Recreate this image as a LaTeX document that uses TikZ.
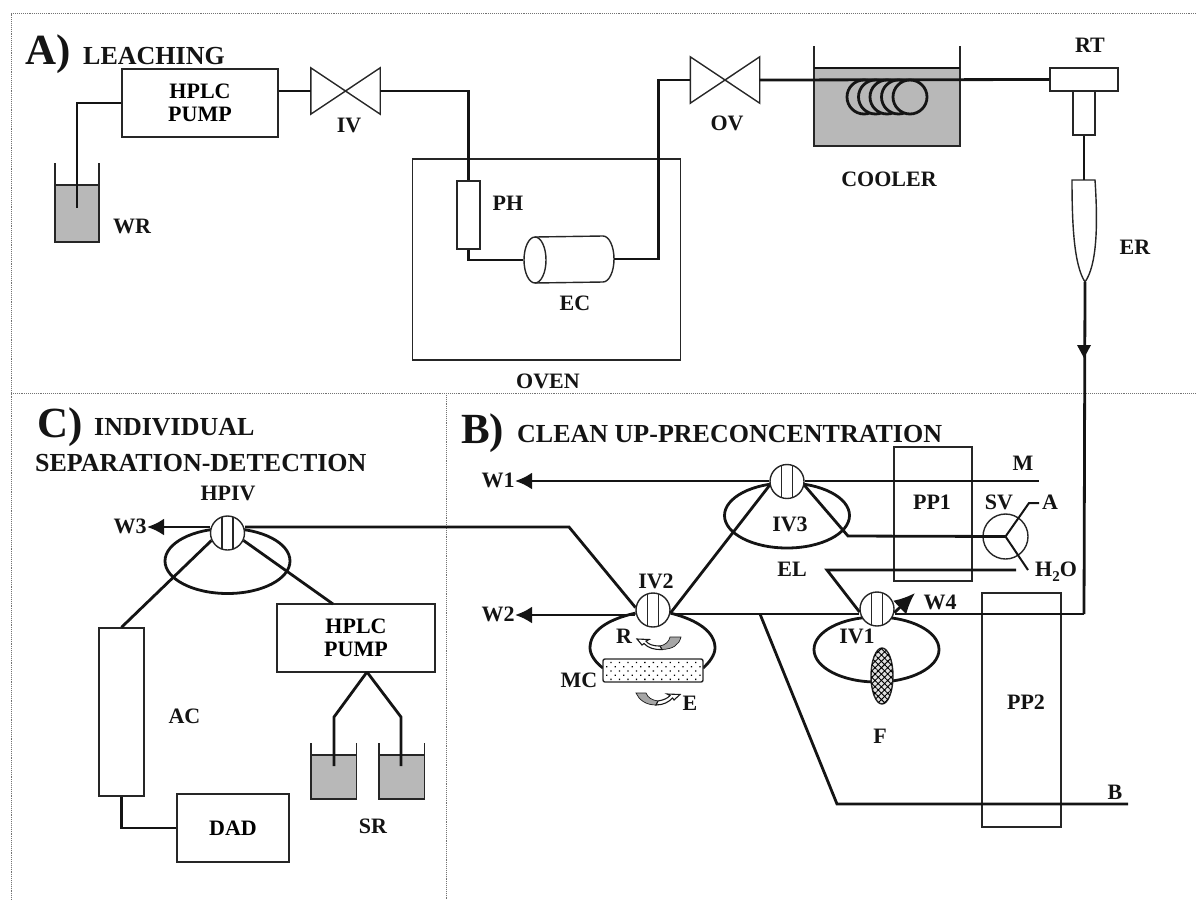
\documentclass[tikz,border=0pt]{standalone}
\usepackage{fontspec}
\setmainfont{Liberation Serif}
\usetikzlibrary{shapes.geometric,patterns.meta,arrows.meta}

\begin{document}
\begin{tikzpicture}[
x=1pt,y=-1pt,
frameline/.style={draw=black!55,densely dotted,line width=0.9pt},
pipe/.style={draw=black!92,line width=2.8pt,line join=miter},
thinbox/.style={draw=black!85,line width=1.4pt},
box/.style={thinbox,rectangle,fill=white,inner sep=0pt,align=center,font=\lab},
ghost/.style={thinbox,rectangle,inner sep=0pt},
lab/.style={font=\lab,anchor=base,inner sep=0pt,text=black!92},
head/.style={font=\headfont,anchor=base west,inner sep=0pt,text=black!92},
big/.style={font=\bigfont,anchor=base west,inner sep=0pt,text=black!92},
rotary/.style={
  circle,
  thinbox,
  fill=white,
  minimum size=34pt,
  inner sep=0pt,
  path picture={
    \draw[thinbox] ([xshift=-5.5pt]path picture bounding box.north) -- ([xshift=-5.5pt]path picture bounding box.south);
    \draw[thinbox] ([xshift=5.5pt]path picture bounding box.north) -- ([xshift=5.5pt]path picture bounding box.south);
    }
  },
ring/.style={
  ellipse,
  pipe,
  inner sep=0pt,
  minimum width=125pt,
  minimum height=65pt
  },
bow/.style={rectangle,inner sep=0pt,minimum width=69pt,minimum height=46pt},
liquid/.style={fill=black!28},
flow/.style={-{Latex[length=17pt,width=17pt]}},
swoosh/.style={draw=black!90,line width=1.1pt,fill=white},
swooshtail/.style={draw=black!90,line width=0.7pt,fill=black!35}
]
\newcommand{\lab}{\fontsize{22}{23}\selectfont\bfseries}
\newcommand{\headfont}{\fontsize{26}{28}\selectfont\bfseries}
\newcommand{\bigfont}{\fontsize{43}{45}\selectfont\bfseries}
\useasboundingbox (0,0) rectangle (1196,900);

% panel borders
\draw[frameline] (1196,13) -- (11,13) -- (11,900);
\draw[frameline] (11,393) -- (1196,393);
\draw[frameline] (446,393) -- (446,900);

% A) leaching
\node[big] (titleA) at (25,64) {A)};
\node[head] (nameA) at (83,64) {LEACHING};

\fill[liquid] (55,185) rectangle (99,242);
\draw[thinbox] (55,163) -- (55,242) -- (99,242) -- (99,163);
\draw[thinbox] (55,185) -- (99,185);
\coordinate (dipWR) at (77,208);
\node[lab] (labWR) at (132,233) {WR};

\node[box,minimum width=156pt,minimum height=68pt] (pumpA) at (200,103) {HPLC\\PUMP};
\node[bow] (iv) at (345.5,91) {};
\draw[thinbox] (iv.north west) -- (iv.south east) -- (iv.north east) -- (iv.south west) -- cycle;
\node[lab] (labIV) at (349,132) {IV};

\node[ghost,minimum width=268pt,minimum height=201pt] (oven) at (546.5,259.5) {};
\node[lab] (labOven) at (548,388) {OVEN};
\node[box,minimum width=23pt,minimum height=68pt] (ph) at (468.5,215) {};
\node[lab] (labPH) at (508,210) {PH};

% extraction cell
\draw[thinbox,fill=white] (535,237) -- (603,236) arc[start angle=90,end angle=-90,x radius=11pt,y radius=23pt] -- (535,283);
\node[ellipse,thinbox,fill=white,inner sep=0pt,minimum width=22pt,minimum height=46pt] (ec) at (535,260) {};
\coordinate (ecout) at (614,259);
\node[lab] (labEC) at (575,310) {EC};

\node[bow] (ov) at (725,80) {};
\draw[thinbox] (ov.north west) -- (ov.south east) -- (ov.north east) -- (ov.south west) -- cycle;
\node[lab] (labOV) at (727,130) {OV};

% cooler with the coil
\fill[liquid] (814,68) rectangle (960,146);
\draw[thinbox] (814,46) -- (814,146) -- (960,146) -- (960,46);
\draw[pipe] (814,68) -- (960,68);
\foreach \cx in {864,875.5,887,898.5,910}
  \draw[pipe,fill=black!28] (\cx,97) ellipse[x radius=17pt,y radius=17pt];
\node[lab] (labCooler) at (889,186) {COOLER};

\node[box,minimum width=68pt,minimum height=23pt] (rt) at (1084,79.5) {};
\node[box,minimum width=22pt,minimum height=44pt] (rtstem) at (1084,113) {};
\node[lab] (labRT) at (1090,52) {RT};

\coordinate (ertop) at (1084,180);
\coordinate (ertip) at (1085,282);
\draw[thinbox,fill=white] (1072,180) -- (1095,180) .. controls (1098,225) and (1097,265) .. (ertip) .. controls (1074,265) and (1072,225) .. cycle;
\node[lab] (labER) at (1135,254) {ER};

% pipes of A
\draw[pipe] (pumpA.west) -| (dipWR);
\draw[pipe] (pumpA.east |- iv.west) -- (iv.west);
\draw[pipe] (iv.east) -| (ph.north);
\draw[pipe] (ph.south) |- (ec.west);
\draw[pipe] (ecout) -| (658.5,80) -- (ov.west);
\draw[pipe] (ov.east) -- (rt.west);
\draw[pipe] (rtstem.south) -- (ertop);

% B) clean up
\node[big] (titleB) at (461,443) {B)};
\node[head] (nameB) at (517,442) {CLEAN UP-PRECONCENTRATION};

\node[ghost,minimum width=78pt,minimum height=134pt] (pp1) at (933,514) {};
\node[lab] (labPP1) at (932,509) {PP1};
\node[ghost,minimum width=79pt,minimum height=234pt] (pp2) at (1021.5,710) {};
\node[lab] (labPP2) at (1026,709) {PP2};

\node[ring] (ring3) at (787,515.5) {};
\node[ring] (ring1) at (876.5,649.5) {};
\node[rotary] (iv3) at (787,481.5) {};
\node[rotary] (iv2) at (653,610) {};
\node[rotary] (iv1) at (877,609) {};

\node[lab] (labW1) at (498,487) {W1};
\node[lab] (labW2) at (498,621) {W2};
\node[lab] (labIV3) at (790,531) {IV3};
\node[lab] (labEL) at (792,576) {EL};
\node[lab] (labIV2) at (656,588) {IV2};
\node[lab] (labIV1) at (857,643) {IV1};
\node[lab] (labW4) at (940,609) {W4};
\node[lab] (labF) at (880,743) {F};
\node[lab] (labM) at (1023,470) {M};
\node[lab] (labSV) at (999,509) {SV};
\node[lab] (labA) at (1050,509) {A};
\node[lab] (labH) at (1056,576) {H\raisebox{-0.5ex}{\fontsize{15}{15}\selectfont 2}O};
\node[lab] (labB) at (1115,799) {B};
\node[lab] (labR) at (624,643) {R};
\node[lab] (labMC) at (579,687) {MC};
\node[lab] (labE) at (690,710) {E};

\node[circle,thinbox,inner sep=0pt,minimum size=45pt] (sv) at (1005.5,536.5) {};
\coordinate (endW1) at (515,481);
\coordinate (endW2) at (515,615);
\coordinate (endM) at (1039,481);
\coordinate (endA) at (1039,503);
\coordinate (endH) at (1028,570);
\coordinate (endEL) at (1016,570);
\coordinate (endB) at (1128,804);
\coordinate (tipW4) at (915,593);
\coordinate (flowtip) at (1084,358);
\coordinate (bend) at (1084,614);

% micro column and filter
\draw[pipe] (iv2.190) .. controls (605,620) and (590,632) .. (590,648) .. controls (590,655) and (596,663) .. (603,668);
\draw[pipe] (iv2.-10) .. controls (698,620) and (715,632) .. (715,648) .. controls (715,655) and (709,663) .. (703,668);
\node[rectangle,rounded corners=2pt,thinbox,fill=white,postaction={pattern={Dots[distance=6pt,radius=0.9pt,angle=45]}},inner sep=0pt,minimum width=100pt,minimum height=23pt] (mc) at (653,670.5) {};
\node[ellipse,thinbox,fill=black!12,postaction={pattern={Hatch[angle=45,distance=4.5pt,line width=0.9pt]}},inner sep=0pt,minimum width=22pt,minimum height=56pt] (filter) at (882,676) {};

% valve arrows
\draw[swooshtail] (681,637) -- (670,637) .. controls (669,642) and (665,645) .. (660,646) -- (662,649.5) .. controls (673,649) and (679,645) .. cycle;
\draw[swoosh] (660,646) .. controls (652,646) and (648,644) .. (646,641) -- (649,639.5) -- (637,639) -- (642,645) -- (644,643.5) .. controls (648,648) and (655,650) .. (662,649.5) -- cycle;
\draw[swooshtail] (636,693) -- (646,693) .. controls (648,698) and (652,700) .. (658,701) -- (656,705) .. controls (646,705) and (639,700) .. cycle;
\draw[swoosh] (658,701) .. controls (664,700) and (668,698) .. (670,695.5) -- (667,694) -- (680,694.5) -- (674,700) -- (672.5,698) .. controls (669,702) and (663,705) .. (656,705) -- cycle;

% pipes of B
\draw[pipe,flow] (iv3.west |- endW1) -- (endW1);
\draw[pipe] (iv3.east |- endM) -- (endM);
\draw[pipe] (iv3.192) -- (iv2.-10);
\draw[pipe] (iv3.-12) -- (848,536) -- (sv.center);
\draw[pipe,line width=2pt] (sv.center) -- (1029,503) -- (endA);
\draw[pipe,line width=2pt] (sv.center) -- (endH);
\draw[pipe] (endEL) -- (827,570) -- (iv1.190);
\draw[pipe] (iv1.-6 |- bend) -- (bend);
\draw[pipe] (ertip) -- (bend);
\draw[fill=black!92,draw=none] (flowtip) -- (1077,345) -- (1091,345) -- cycle;
\draw[pipe,-{Latex[length=21pt,width=19pt]}] (iv1.-12) -- (tipW4);
\draw[pipe] (iv2.east |- bend) -- (iv1.west |- bend);
\draw[pipe,flow] (iv2.west |- endW2) -- (endW2);
\draw[pipe] (760,614) -- (837,804) -- (endB);

% C) separation and detection
\node[big] (titleC) at (37,437) {C)};
\node[head] (nameC) at (94,435) {INDIVIDUAL};
\node[head] (nameCC) at (35,471) {SEPARATION-DETECTION};
\node[lab] (labHPIV) at (228,500) {HPIV};

\node[ring] (ringC) at (227.5,561) {};
\node[rotary] (hpiv) at (227.5,533) {};
\node[lab] (labW3) at (130,533) {W3};

\node[box,minimum width=45pt,minimum height=168pt] (ac) at (121.5,712) {};
\node[lab] (labAC) at (184.5,723) {AC};
\node[box,minimum width=112pt,minimum height=68pt] (dad) at (233,828) {DAD};
\node[box,minimum width=158pt,minimum height=68pt] (pumpC) at (356,638) {HPLC\\PUMP};
\node[lab] (labSR) at (373,833) {SR};

\foreach \bx in {311,379}
{
  \fill[liquid] (\bx,755) rectangle (\bx+45.5,799);
  \draw[thinbox] (\bx,743) -- (\bx,799) -- (\bx+45.5,799) -- (\bx+45.5,743);
  \draw[thinbox] (\bx,755) -- (\bx+45.5,755);
}
\coordinate (dipL) at (334,766);
\coordinate (dipR) at (401,766);
\coordinate (endW3) at (147,527);
\coordinate (splitP) at (367,672);

% pipes of C
\draw[pipe,flow] (hpiv.west |- endW3) -- (endW3);
\draw[pipe] (hpiv.east |- endW3) -- (569,527) -- (iv2.172);
\draw[pipe] (hpiv.205) -- (ac.north);
\draw[pipe] (hpiv.-25) -- (333,604);
\draw[pipe] (splitP) -- (334,717) -- (dipL);
\draw[pipe] (splitP) -- (401,717) -- (dipR);
\draw[pipe] (ac.south) |- (dad.west);
\end{tikzpicture}
\end{document}
